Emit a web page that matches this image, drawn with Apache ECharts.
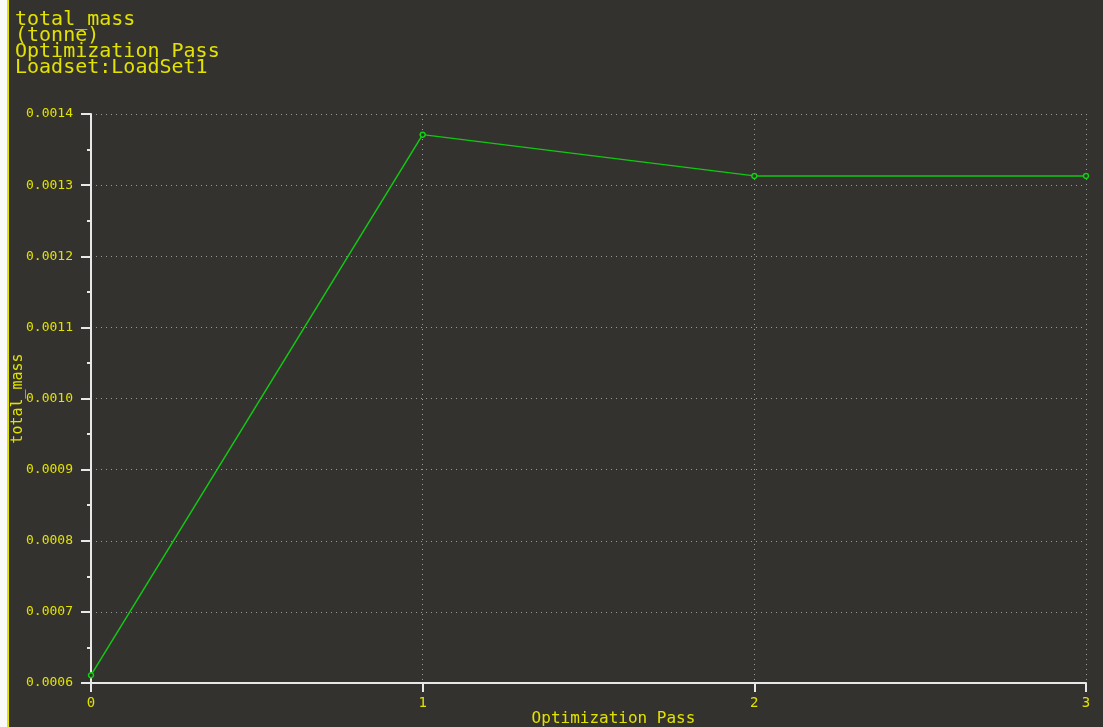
<!DOCTYPE html>
<html>
<head>
<meta charset="utf-8">
<title>total_mass</title>
<script src="https://cdn.jsdelivr.net/npm/echarts@6/dist/echarts.min.js"></script>
<style>
  html, body { margin: 0; padding: 0; background: #33322e; }
  #wrap { position: relative; width: 1103px; height: 727px; }
  #chart { width: 1103px; height: 727px; }
  /* window frame on the left edge: light margin and yellow rule */
  #frame-edge { position: absolute; left: 0; top: 0; width: 7px; height: 727px; background: #fafafa; z-index: 5; }
  #frame-rule { position: absolute; left: 7px; top: 0; width: 2px; height: 727px; background: #e2e200; z-index: 5; }
</style>
</head>
<body>
<div id="wrap">
  <div id="chart"></div>
  <div id="frame-edge"></div>
  <div id="frame-rule"></div>
</div>
<script>
// Optimization passes and total mass per pass (tonne)
const passes = [0, 1, 2, 3];
const totalMass = [0.000611, 0.001371, 0.001313, 0.001313];
const titleLines = ['total_mass', '(tonne)', 'Optimization Pass', 'Loadset:LoadSet1'];
const xName = 'Optimization Pass';
const yName = 'total_mass';

const yellow = '#e2e200';
const axisWhite = '#e8e8e8';
const mono = '"DejaVu Sans Mono", "Liberation Mono", monospace';

const chart = echarts.init(document.getElementById('chart'), null, { renderer: 'canvas' });

chart.setOption({
  backgroundColor: '#33322e',
  animation: false,
  title: {
    text: titleLines.join('\n'),
    left: 10,
    top: 7,
    textStyle: {
      color: yellow,
      fontFamily: mono,
      fontWeight: 'normal',
      fontSize: 20,
      lineHeight: 16
    }
  },
  grid: { left: 91, right: 17, top: 114, bottom: 44, outerBoundsMode: 'none', containLabel: false },
  xAxis: {
    type: 'value',
    min: 0,
    max: 3,
    interval: 1,
    name: xName,
    nameLocation: 'middle',
    nameGap: 28,
    nameMoveOverlap: false,
    nameTextStyle: { color: yellow, fontFamily: mono, fontSize: 16, padding: [0, 0, 0, 50] },
    axisLine: { show: true, lineStyle: { color: axisWhite, width: 2 } },
    axisTick: { show: true, length: 9, lineStyle: { color: axisWhite, width: 2 } },
    axisLabel: { color: yellow, fontFamily: mono, fontSize: 14, margin: 13, formatter: v => String(v) },
    splitLine: { show: true, lineStyle: { color: '#9a9a9a', type: [1, 4], width: 1 } }
  },
  yAxis: {
    type: 'value',
    min: 0.0006,
    max: 0.0014,
    interval: 0.0001,
    name: yName,
    nameLocation: 'middle',
    nameGap: 65,
    nameRotate: 90,
    nameMoveOverlap: false,
    nameTextStyle: { color: yellow, fontFamily: mono, fontSize: 15 },
    axisLine: { show: true, lineStyle: { color: axisWhite, width: 2 } },
    axisTick: { show: true, length: 10, lineStyle: { color: axisWhite, width: 2 } },
    minorTick: { show: true, splitNumber: 2, length: 4, lineStyle: { color: axisWhite, width: 2 } },
    axisLabel: { color: yellow, fontFamily: mono, fontSize: 13, margin: 18, formatter: v => v.toFixed(4) },
    splitLine: { show: true, lineStyle: { color: '#9a9a9a', type: [1, 4], width: 1 } }
  },
  series: [{
    type: 'line',
    data: passes.map((p, i) => [p, totalMass[i]]),
    symbol: 'circle',
    symbolSize: 5,
    showSymbol: true,
    lineStyle: { color: '#12c812', width: 1.5 },
    itemStyle: { color: '#33322e', borderColor: '#12d012', borderWidth: 1.5 }
  }]
});
</script>
</body>
</html>
